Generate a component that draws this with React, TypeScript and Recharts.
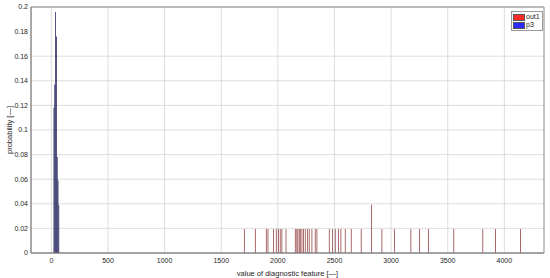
import {
    ComposedChart,
    Bar,
    Cell,
    XAxis,
    YAxis,
    CartesianGrid,
    ReferenceArea,
    Legend,
} from "recharts";

// bin centres and probabilities
const out1X = [
    1704, 1801, 1898, 1913, 1963, 1986, 2007, 2021, 2036, 2072, 2154, 2168, 2177, 2189, 2198, 2213,
    2227, 2242, 2262, 2277, 2301, 2330, 2345, 2454, 2483, 2507, 2536, 2557, 2595, 2648, 2736, 2827,
    2919, 3030, 3175, 3251, 3330, 3554, 3810, 3922, 4142,
];
const out1Prob = out1X.map((x) => (x === 2827 ? 0.0392 : 0.0196));

const p3X = [23, 30, 38, 45, 52, 59, 66];
const p3Prob = [0.118, 0.137, 0.196, 0.176, 0.078, 0.059, 0.039];

const xTicks = [0, 500, 1000, 1500, 2000, 2500, 3000, 3500, 4000];
const yTicks = [0, 0.02, 0.04, 0.06, 0.08, 0.1, 0.12, 0.14, 0.16, 0.18, 0.2];
const xDomain = [-180, 4350];

const rows = [
    ...out1X.map((x, i) => ({ x, prob: out1Prob[i], series: "out1" })),
    ...p3X.map((x, i) => ({ x, prob: p3Prob[i], series: "p3" })),
];

const FONT = "'Liberation Sans', Arial, sans-serif";
const TEXT = "#262626";
const barColor: Record<string, string> = { out1: "#883030", p3: "#12124f" };
const legendItems = [
    { label: "out1", color: "#ff2b2b" },
    { label: "p3", color: "#2b2bff" },
];

const LegendBox = () => (
    <div
        style={{
            border: "1px solid #9a9a9a",
            background: "#fff",
            padding: "1px 2px 1px 1px",
            fontFamily: FONT,
            fontSize: 7,
            color: TEXT,
            lineHeight: "8px",
        }}
    >
        {legendItems.map((it) => (
            <div key={it.label} style={{ display: "flex", alignItems: "center" }}>
                <span
                    style={{
                        display: "inline-block",
                        width: 10,
                        height: 5,
                        background: it.color,
                        border: "0.5px solid #555",
                        marginRight: 1,
                    }}
                />
                {it.label}
            </div>
        ))}
    </div>
);

export default function App() {
    return (
        <div style={{ position: "absolute", left: 0, top: 0, width: 550, height: 278, background: "#fff" }}>
            <ComposedChart
                width={550}
                height={278}
                data={rows}
                margin={{ top: 7, right: 6, bottom: 0, left: 0 }}
                style={{ fontFamily: FONT }}
            >
                <CartesianGrid stroke="#d4d4d4" strokeWidth={0.8} verticalValues={xTicks} horizontalValues={yTicks} />
                <XAxis
                    dataKey="x"
                    type="number"
                    domain={xDomain}
                    ticks={xTicks}
                    allowDataOverflow
                    height={25}
                    tickLine={false}
                    tickSize={5}
                    tickMargin={0}
                    axisLine={{ stroke: "#8a8a8a" }}
                    tick={{ fontSize: 7, fill: TEXT }}
                    label={{
                        value: "value of diagnostic feature [—]",
                        position: "insideBottom",
                        offset: 2,
                        style: { fontSize: 7.5, fill: TEXT },
                    }}
                />
                <YAxis
                    type="number"
                    domain={[0, 0.2]}
                    ticks={yTicks}
                    allowDataOverflow
                    width={31}
                    tickLine={false}
                    tickSize={3}
                    tickMargin={0}
                    axisLine={{ stroke: "#8a8a8a" }}
                    tick={{ fontSize: 7, fill: TEXT }}
                    tickFormatter={(v: number) => String(Math.round(v * 100) / 100)}
                    label={{
                        value: "probability [—]",
                        angle: -90,
                        position: "insideLeft",
                        offset: 9,
                        style: { fontSize: 7.5, fill: TEXT, textAnchor: "middle" },
                    }}
                />
                <ReferenceArea
                    x1={xDomain[0]}
                    x2={xDomain[1]}
                    y1={0}
                    y2={0.2}
                    fill="none"
                    stroke="#8a8a8a"
                    ifOverflow="visible"
                />
                <Bar dataKey="prob" barSize={2} isAnimationActive={false}>
                    {rows.map((r, i) => (
                        <Cell key={i} fill={barColor[r.series]} />
                    ))}
                </Bar>
                <Legend
                    layout="vertical"
                    align="center"
                    verticalAlign="middle"
                    content={<LegendBox />}
                    wrapperStyle={{ position: "absolute", top: 11, left: 511, width: "auto" }}
                />
            </ComposedChart>
        </div>
    );
}
